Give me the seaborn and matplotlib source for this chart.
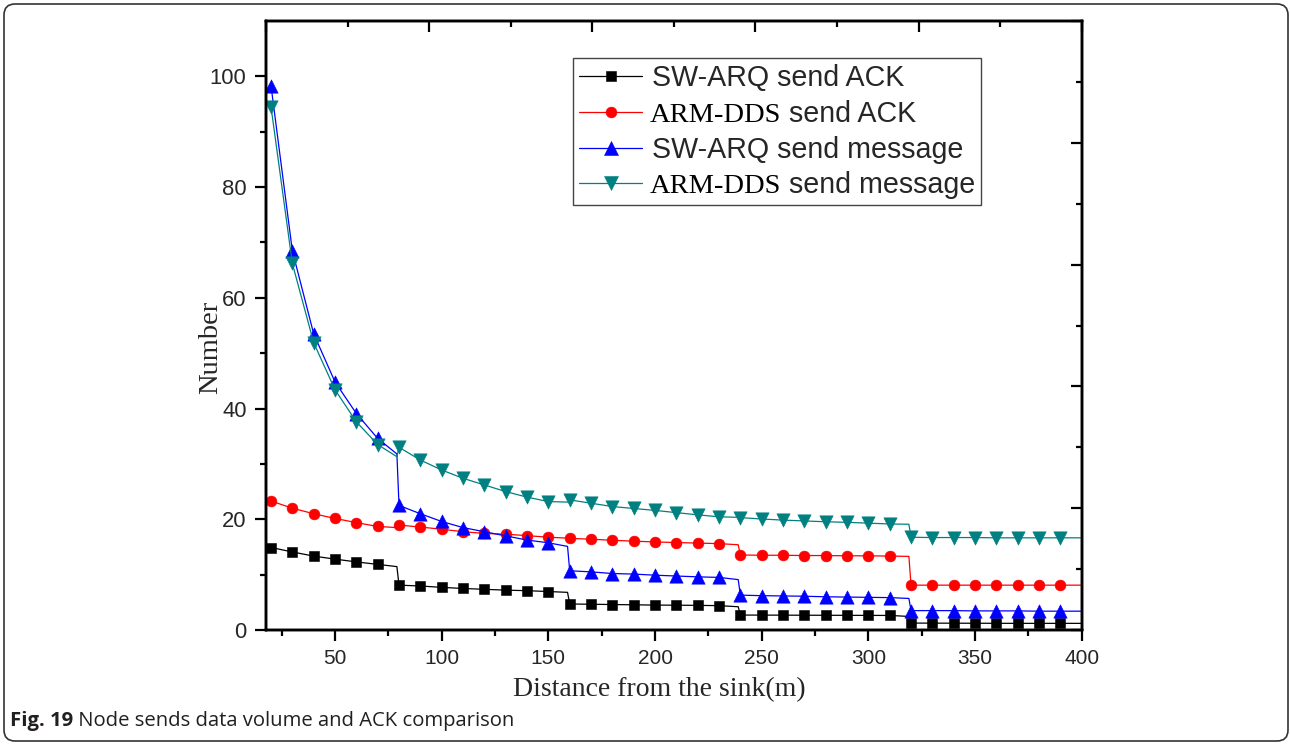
import matplotlib
matplotlib.use("Agg")
import matplotlib.pyplot as plt
import seaborn as sns
from matplotlib.lines import Line2D
from matplotlib.patches import FancyBboxPatch
from matplotlib.offsetbox import TextArea
from matplotlib.ticker import FixedLocator

# Distance from the sink (m) at which each node is sampled
dist = [20, 30, 40, 50, 60, 70, 80, 90, 100, 110, 120, 130, 140, 150,
        160, 170, 180, 190, 200, 210, 220, 230, 240, 250, 260, 270, 280,
        290, 300, 310, 320, 330, 340, 350, 360, 370, 380, 390]

sw_arq_ack = [14.9, 14.1, 13.35, 12.8, 12.3, 11.85, 8.1, 7.95, 7.7, 7.5,
              7.35, 7.2, 7.1, 6.95, 4.7, 4.65, 4.6, 4.55, 4.5, 4.48, 4.45,
              4.4, 2.7, 2.69, 2.68, 2.67, 2.66, 2.65, 2.64, 2.63, 1.25,
              1.24, 1.23, 1.22, 1.21, 1.2, 1.2, 1.2]
arm_dds_ack = [23.3, 22.0, 21.0, 20.15, 19.4, 18.7, 18.95, 18.6, 18.2,
               17.75, 17.45, 17.3, 17.05, 16.75, 16.55, 16.4, 16.2, 16.05,
               15.9, 15.8, 15.7, 15.6, 13.55, 13.5, 13.5, 13.45, 13.45,
               13.4, 13.4, 13.35, 8.1, 8.1, 8.1, 8.1, 8.1, 8.1, 8.1, 8.1]
sw_arq_msg = [98.3, 68.5, 53.5, 44.8, 39.1, 34.6, 22.5, 21.0, 19.6, 18.5,
              17.75, 17.0, 16.25, 15.75, 10.7, 10.5, 10.2, 10.1, 9.9, 9.75,
              9.6, 9.5, 6.3, 6.2, 6.15, 6.1, 6.0, 5.95, 5.9, 5.85, 3.5,
              3.5, 3.5, 3.45, 3.45, 3.45, 3.4, 3.4]
arm_dds_msg = [94.5, 66.2, 51.9, 43.4, 37.6, 33.5, 33.0, 30.7, 28.9, 27.4,
               26.2, 25.0, 24.0, 23.2, 23.5, 22.9, 22.3, 21.95, 21.6, 21.2,
               20.8, 20.45, 20.3, 20.05, 19.85, 19.7, 19.55, 19.45, 19.3,
               19.15, 16.75, 16.7, 16.7, 16.7, 16.65, 16.65, 16.65, 16.65]

# Curve values just before each hop boundary and at the end of the range
edge_dist = [79, 159, 239, 319, 400]
sw_arq_ack_edge = [11.45, 6.8, 4.2, 2.45, 1.2]
arm_dds_ack_edge = [18.5, 16.6, 15.4, 13.3, 8.1]
sw_arq_msg_edge = [31.8, 15.1, 9.1, 5.7, 3.4]
arm_dds_msg_edge = [31.3, 23.1, 20.35, 19.1, 16.65]

# Legend labels: scheme name (serif for ARM-DDS) + action (sans)
scheme_names = ["SW-ARQ", "ARM-DDS", "SW-ARQ", "ARM-DDS"]
actions = ["send ACK", "send ACK", "send message", "send message"]
x_major = [50, 100, 150, 200, 250, 300, 350, 400]
x_minor = [25, 75, 125, 175, 225, 275, 325, 375]
y_major = [0, 20, 40, 60, 80, 100]
y_minor = [10, 30, 50, 70, 90]

sns.set_style("ticks")
plt.rcParams["font.family"] = ["Liberation Sans", "DejaVu Sans"]

W, H = 1290, 745
fig = plt.figure(figsize=(W / 100, H / 100), dpi=100)
ax = fig.add_axes([266 / W, 1 - 630 / H, (1081.7 - 266) / W, (630 - 21) / H])

series = [
    (sw_arq_ack, sw_arq_ack_edge, "#000000", "s", 7.3),
    (arm_dds_ack, arm_dds_ack_edge, "#ff0000", "o", 7.8),
    (sw_arq_msg, sw_arq_msg_edge, "#0000ff", "^", 9.6),
    (arm_dds_msg, arm_dds_msg_edge, "#008080", "v", 9.6),
]

handles = []
for i, (vals, edge, color, marker, ms) in enumerate(series):
    lx = dist + edge_dist
    ly = vals + edge
    sns.lineplot(x=lx, y=ly, color=color, lw=0.9, sort=True,
                 estimator=None, ax=ax, zorder=3 + 2 * i)
    sns.scatterplot(x=dist, y=vals, marker=marker, s=ms ** 2, color=color,
                    edgecolor=color, linewidth=0.4, ax=ax, zorder=4 + 2 * i,
                    legend=False)
    handles.append(Line2D([], [], color=color, lw=0.9, marker=marker,
                          markersize=ms, markeredgecolor=color,
                          markeredgewidth=0.4))

ax.set_xlim(17.65, 400)
ax.set_ylim(0, 110)
ax.xaxis.set_major_locator(FixedLocator(x_major))
ax.xaxis.set_minor_locator(FixedLocator(x_minor))
ax.yaxis.set_major_locator(FixedLocator(y_major))
ax.yaxis.set_minor_locator(FixedLocator(y_minor))
ax.tick_params(which="both", direction="out", width=1.6, color="black",
               top=False, right=False)
ax.tick_params(which="major", length=8)
ax.tick_params(which="minor", length=4)
ax.tick_params(axis="x", labelsize=15, pad=6)
ax.tick_params(axis="y", labelsize=15.8, pad=6)

# Unlabelled inward ticks along the top and right frame
axt = ax.twiny()
axt.set_xlim(0, 10)
axt.xaxis.set_major_locator(FixedLocator([0, 2, 4, 6, 8, 10]))
axt.xaxis.set_minor_locator(FixedLocator([1, 3, 5, 7, 9]))
axt.tick_params(axis="x", which="both", direction="in", top=True,
                bottom=False, labeltop=False, labelbottom=False,
                width=1.6, color="black")
axt.tick_params(axis="x", which="major", length=8)
axt.tick_params(axis="x", which="minor", length=4)

axr = ax.twinx()
axr.set_ylim(0, 10)
axr.yaxis.set_major_locator(FixedLocator([0, 2, 4, 6, 8, 10]))
axr.yaxis.set_minor_locator(FixedLocator([1, 3, 5, 7, 9]))
axr.tick_params(axis="y", which="both", direction="in", right=True,
                left=False, labelright=False, labelleft=False,
                width=1.6, color="black")
axr.tick_params(axis="y", which="major", length=8)
axr.tick_params(axis="y", which="minor", length=4)

for a in (ax, axt, axr):
    for sp in a.spines.values():
        sp.set_linewidth(1.7)
        sp.set_color("black")
        sp.set_visible(True)

ax.set_xlabel("Distance from the sink(m)", fontfamily="Liberation Serif",
              fontsize=20)
ax.xaxis.set_label_coords(0.4824, -0.0772)
ax.set_ylabel("Number", fontfamily="Liberation Serif", fontsize=20.5)
ax.yaxis.set_label_coords(-0.053, 0.4647)

# Sans entries carry the full label; serif scheme names are packed in
# front of the action text for the ARM-DDS rows
LEG_SIZE = 20.6
leg_labels = [f"{n} {a}" if n == "SW-ARQ" else a
              for n, a in zip(scheme_names, actions)]
leg = ax.legend(handles, leg_labels, loc="upper left",
                bbox_to_anchor=(0.3767, 0.9388), borderaxespad=0,
                frameon=True, fancybox=False, framealpha=1,
                edgecolor="#444444",
                prop={"family": "Liberation Sans", "size": LEG_SIZE},
                handlelength=2.19, handletextpad=0.35, borderpad=0.21,
                labelspacing=0.27, numpoints=1)
leg.get_frame().set_linewidth(1.0)
leg.set_zorder(20)

rows = []
for col in leg._legend_handle_box.get_children():
    rows.extend(col.get_children())
for row, name in zip(rows, scheme_names):
    if name == "SW-ARQ":
        continue
    serif = TextArea(name, textprops=dict(family="Liberation Serif",
                                          size=20.5, color="black"))
    serif.set_figure(fig)
    row.get_children().insert(1, serif)
    row.sep = 0.27 * LEG_SIZE

# Rounded frame around the whole figure
frame = FancyBboxPatch((0.04, 0.04), 12.84, 7.37,
                       boxstyle="round,pad=0,rounding_size=0.11",
                       transform=fig.dpi_scale_trans, fill=False,
                       edgecolor="#333333", lw=1.2)
fig.add_artist(frame)

cap1 = fig.text(10 / W, 1 - 731 / H, "Fig. 19", family="Open Sans",
                weight="bold", size=14.6, va="bottom", ha="left",
                color="#231f20")
ax.annotate(" Node sends data volume and ACK comparison", xy=(1, 0),
            xycoords=cap1, va="bottom", ha="left", family="Open Sans",
            size=14.6, color="#231f20", annotation_clip=False)

fig.savefig("out.png", dpi=100)
